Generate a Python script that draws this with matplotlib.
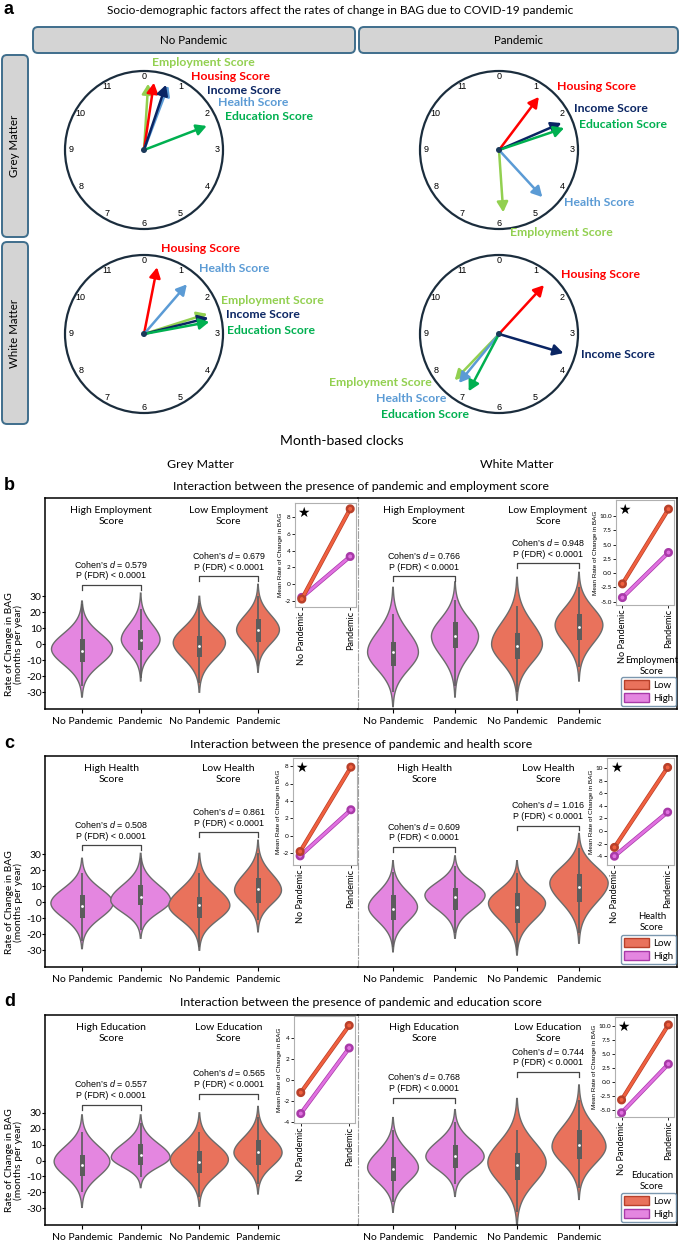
import numpy as np
import matplotlib
matplotlib.use("Agg")
import matplotlib.pyplot as plt
from matplotlib.patches import Circle, FancyArrowPatch, FancyBboxPatch, Rectangle, Patch
import matplotlib.patheffects as pe

plt.rcParams["font.family"] = ["Lato", "DejaVu Sans"]
plt.rcParams["mathtext.fontset"] = "custom"
plt.rcParams["mathtext.it"] = "Liberation Sans:italic"
plt.rcParams["mathtext.rm"] = "Liberation Sans"

# ======================= DATA =======================
factor_names = ["Employment Score", "Housing Score", "Health Score", "Income Score", "Education Score"]

# clock hands: hour position (0-12) and relative length (fraction of radius)
gm_nopan_hour = [0.12, 0.28, 0.69, 0.62, 2.30]
gm_nopan_len = [0.84, 0.86, 0.87, 0.87, 0.85]
gm_pan_hour = [5.87, 1.23, 4.58, 2.22, 2.38]
gm_pan_len = [0.79, 0.84, 0.81, 0.86, 0.87]
wm_nopan_hour = [2.41, 0.37, 1.36, 2.53, 2.65]
wm_nopan_len = [0.84, 0.86, 0.83, 0.84, 0.84]
wm_pan_hour = [7.46, 1.42, 7.31, 3.55, 6.93]
wm_pan_len = [0.81, 0.84, 0.80, 0.85, 0.82]

x_labels = ["No Pandemic", "Pandemic", "No Pandemic", "Pandemic"]
groups = ["High", "High", "Low", "Low"]
y_ticks = [-30, -20, -10, 0, 10, 20, 30]

# violin summaries: first 4 = Grey Matter, last 4 = White Matter
# order: High/NoPandemic, High/Pandemic, Low/NoPandemic, Low/Pandemic
emp_min = [-33, -23, -30, -17.5, -39, -33, -35, -23]
emp_max = [27, 32, 30, 37.5, 35.6, 39, 42, 45]
emp_peak = [-3, 3, 1, 9, -5, 5, 0, 12]
emp_q1 = [-11, -3.6, -8, 1.2, -13.7, -2.5, -9.5, 2.5]
emp_median = [-4.4, 2.5, -1.3, 8.8, -5, 5, -1, 11]
emp_q3 = [3, 8.8, 5, 16, 1.2, 14, 7, 19]
emp_whislo = [-26, -21, -24, -13.5, -30, -26, -30, -14]
emp_whishi = [25, 22, 26, 30, 19, 28, 24, 36]
emp_cohen = [0.579, 0.679, 0.766, 0.948]
emp_mean_low = [[-1.8, 9.0], [-1.9, 11.2]]
emp_mean_high = [[-1.6, 3.3], [-4.3, 3.6]]

hea_min = [-29, -22.5, -30, -18.5, -31, -22.5, -33, -25.6]
hea_max = [27.5, 30.6, 30.6, 38.8, 26, 29, 26, 43]
hea_peak = [-0.6, 1.2, -2, 7.5, -3, 4.4, -0.6, 12]
hea_q1 = [-10, -2, -10, -0.6, -11, -5, -13, 0]
hea_median = [-2.5, 3, -1.9, 8, -4.4, 3, -3, 9.4]
hea_q3 = [4.4, 10.6, 3, 15, 4.4, 9, 5.6, 17.5]
hea_whislo = [-24, -17.5, -28, -11, -28, -19, -30, -19.5]
hea_whishi = [18, 27.5, 18, 31, 19, 22.5, 18, 33.7]
hea_cohen = [0.508, 0.861, 0.609, 1.016]
hea_mean_low = [[-1.8, 7.9], [-2.6, 10.1]]
hea_mean_high = [[-2.3, 3.0], [-4.0, 3.0]]

edu_min = [-29.4, -17, -28.7, -21, -32.5, -22.5, -41, -24.4]
edu_max = [28.7, 28.7, 30, 34, 27, 32, 39, 47.5]
edu_peak = [-0.6, 2, 0.6, 5, -4.4, 2.5, -1.3, 8.8]
edu_q1 = [-10, -3, -8, -2.5, -13, -4.4, -12, 1.2]
edu_median = [-3, 3.8, -0.6, 5.6, -5.6, 3, -3, 10]
edu_q3 = [3.8, 10.6, 6, 13, 2.5, 10, 5, 19.4]
edu_whislo = [-20, -10.6, -23, -15, -26, -15, -32.5, -17]
edu_whishi = [18, 23.7, 18, 27.5, 19, 24, 19, 38]
edu_cohen = [0.557, 0.565, 0.768, 0.744]
edu_mean_low = [[-1.2, 5.2], [-3.2, 10.2]]
edu_mean_high = [[-3.2, 3.05], [-5.5, 3.2]]

# ======================= STYLE / LAYOUT =======================
W, H = 685, 1244
fig = plt.figure(figsize=(W / 100, H / 100), dpi=100)

factor_colors = ["#92d050", "#ff0000", "#5b9bd5", "#0a2563", "#00b050"]
pink = "#e486e0"
orange = "#e9725c"
pink_line, pink_edge = "#e070e0", "#a83aa8"
orange_line, orange_edge = "#f0603f", "#b8402a"


def px_axes(x0, y0, x1, y1):
    return fig.add_axes([x0 / W, 1 - y1 / H, (x1 - x0) / W, (y1 - y0) / H])


bg = fig.add_axes([0, 0, 1, 1])
bg.set_xlim(0, W)
bg.set_ylim(H, 0)
bg.axis("off")

# ---------- panel a ----------
bg.text(4, 10, "a", fontsize=13, fontweight="bold", family="Liberation Sans", va="center")
bg.text(340, 11, "Socio-demographic factors affect the rates of change in BAG due to COVID-19 pandemic",
        ha="center", va="center", fontsize=8.6)


def strip(x0, y0, x1, y1, label, rot=0):
    bg.add_patch(FancyBboxPatch((x0, y0), x1 - x0, y1 - y0,
                                boxstyle="round,pad=0,rounding_size=5",
                                fc="#d4d4d4", ec="#3f6e8c", lw=1.4))
    bg.text((x0 + x1) / 2, (y0 + y1) / 2, label, ha="center", va="center",
            fontsize=8.3, rotation=rot)


strip(33, 27, 355, 53, "No Pandemic")
strip(359, 27, 678, 53, "Pandemic")
strip(2, 55, 28, 237, "Grey Matter", 90)
strip(2, 242, 28, 424, "White Matter", 90)

R = 79
clock_specs = [
    ((144, 150), gm_nopan_hour, gm_nopan_len,
     [(8, -88, "left"), (47, -74, "left"), (74, -47, "left"), (63, -60, "left"), (81, -33, "left")]),
    ((499, 150), gm_pan_hour, gm_pan_len,
     [(11, 83, "left"), (58, -64, "left"), (65, 52, "left"), (75, -41, "left"), (80, -26, "left")]),
    ((144, 334), wm_nopan_hour, wm_nopan_len,
     [(77, -34, "left"), (17, -86, "left"), (55, -66, "left"), (82, -20, "left"), (83, -3, "left")]),
    ((499, 334), wm_pan_hour, wm_pan_len,
     [(-67, 49, "right"), (62, -60, "left"), (-123, 65, "left"), (82, 20, "left"), (-118, 81, "left")]),
]

for (cx, cy), hours, lens, offs in clock_specs:
    bg.add_patch(Circle((cx, cy), R, fill=False, ec="#1b2d3d", lw=1.6))
    for k in range(12):
        th = np.deg2rad(30 * k)
        bg.text(cx + 0.925 * R * np.sin(th), cy - 0.925 * R * np.cos(th), str(k),
                ha="center", va="center", fontsize=6.5, family="Liberation Sans")
    for name, col, h, L, (ox, oy, ha) in zip(factor_names, factor_colors, hours, lens, offs):
        th = np.deg2rad(30 * h)
        tip = (cx + L * R * np.sin(th), cy - L * R * np.cos(th))
        bg.add_patch(FancyArrowPatch((cx, cy), tip,
                                     arrowstyle="-|>,head_length=0.55,head_width=0.3",
                                     mutation_scale=11, lw=1.8, color=col,
                                     shrinkA=0, shrinkB=0))
        bg.text(cx + ox, cy + oy, name, color=col, fontsize=8.8, fontweight="bold",
                ha=ha, va="center")
    bg.add_patch(Circle((cx, cy), 3, fc="#1b3a5a", ec="none", zorder=5))

bg.text(342, 441, "Month-based clocks", ha="center", va="center", fontsize=10)
bg.text(200, 465, "Grey Matter", ha="center", va="center", fontsize=8.8)
bg.text(517, 465, "White Matter", ha="center", va="center", fontsize=8.8)

# ---------- panels b, c, d ----------
half_px = [(45, 358, 82, 58.67), (358, 677, 393, 62.0)]
ylim_main = (-40.5, 91.5)

rows = [
    dict(letter="b", top=498, bot=709, title_y=486,
         title="Interaction between the presence of pandemic and employment score",
         grp="Employment", leg_title="Employment\nScore",
         mn=emp_min, mx=emp_max, pk=emp_peak, q1=emp_q1, med=emp_median, q3=emp_q3,
         wlo=emp_whislo, whi=emp_whishi, cohen=emp_cohen, low=emp_mean_low, high=emp_mean_high,
         width=[1.04, 0.66, 0.89, 0.73, 0.82, 0.76, 0.82, 0.77],
         brk=[37, 42.5, 42.5, 50.6],
         inset=[(295, 503, 356, 607), (616, 500, 674, 605)],
         ilim=[(-2.75, 9.7), (-5.6, 12.8)],
         itick=[[-2, 0, 2, 4, 6, 8], [-5, -2.5, 0, 2.5, 5, 7.5, 10]],
         star=[True, True], leg_y=(666, 677)),
    dict(letter="c", top=756, bot=967, title_y=744,
         title="Interaction between the presence of pandemic and health score",
         grp="Health", leg_title="Health\nScore",
         mn=hea_min, mx=hea_max, pk=hea_peak, q1=hea_q1, med=hea_median, q3=hea_q3,
         wlo=hea_whislo, whi=hea_whishi, cohen=hea_cohen, low=hea_mean_low, high=hea_mean_high,
         width=[1.06, 1.02, 1.04, 0.80, 0.79, 0.97, 0.92, 0.94],
         brk=[35.6, 43.75, 34.4, 48],
         inset=[(293, 758, 357, 865), (607, 758, 674, 865)],
         ilim=[(-3.35, 8.95), (-5.4, 11.6)],
         itick=[[-2, 0, 2, 4, 6, 8], [-4, -2, 0, 2, 4, 6, 8, 10]],
         star=[True, True], leg_y=(922, 935)),
    dict(letter="d", top=1015, bot=1225, title_y=1002,
         title="Interaction between the presence of pandemic and education score",
         grp="Education", leg_title="Education\nScore",
         mn=edu_min, mx=edu_max, pk=edu_peak, q1=edu_q1, med=edu_median, q3=edu_q3,
         wlo=edu_whislo, whi=edu_whishi, cohen=edu_cohen, low=edu_mean_low, high=edu_mean_high,
         width=[0.95, 1.0, 0.99, 0.82, 0.82, 0.94, 0.94, 0.87],
         brk=[35, 41.9, 39.4, 55.6],
         inset=[(294, 1016, 355, 1123), (615, 1017, 674, 1117)],
         ilim=[(-4.1, 6.1), (-6.25, 11.6)],
         itick=[[-4, -2, 0, 2, 4], [-5, -2.5, 0, 2.5, 5, 7.5, 10]],
         star=[False, True], leg_y=(1181, 1193)),
]


def draw_violin(ax, x, lo, hi, peak, width, q1, med, q3, wlo, whi, color, bw):
    y = np.linspace(lo, hi, 300)
    s_lo = (peak - lo) / 3.1
    s_hi = (hi - peak) / 3.1
    z = np.where(y < peak, (y - peak) / s_lo, (y - peak) / s_hi)
    hw = 0.5 * width * np.exp(-0.5 * np.abs(z) ** 1.95)
    xs = np.concatenate([x - hw, (x + hw)[::-1]])
    ys = np.concatenate([y, y[::-1]])
    ax.fill(xs, ys, fc=color, ec="#6b6b6b", lw=1.0, zorder=2)
    ax.plot([x, x], [wlo, whi], color="#5c5c5c", lw=1.2, zorder=3, solid_capstyle="butt")
    ax.add_patch(Rectangle((x - bw / 2, q1), bw, q3 - q1, fc="#5c5c5c", ec="none", zorder=4))
    ax.scatter([x], [med], s=4, color="white", zorder=5, lw=0)


for r in rows:
    bg.text(4, r["title_y"] - 1, r["letter"], fontsize=13, fontweight="bold",
            family="Liberation Sans", va="center")
    bg.text(361, r["title_y"], r["title"], ha="center", va="center", fontsize=8.8)
    zero_px = r["top"] + ylim_main[1] * (r["bot"] - r["top"]) / (ylim_main[1] - ylim_main[0])
    bg.text(14, zero_px, "Rate of Change in BAG\n(months per year)", rotation=90,
            ha="center", va="center", fontsize=7.4, linespacing=1.0)

    for h, (x0, x1, origin, slope) in enumerate(half_px):
        ax = px_axes(x0, r["top"], x1, r["bot"])
        ax.set_facecolor("none")
        ax.set_xlim((x0 - origin) / slope, (x1 - origin) / slope)
        ax.set_ylim(*ylim_main)
        cols = [pink, pink, orange, orange]
        for i, k in enumerate(range(4 * h, 4 * h + 4)):
            draw_violin(ax, i, r["mn"][k], r["mx"][k], r["pk"][k], r["width"][k],
                        r["q1"][k], r["med"][k], r["q3"][k], r["wlo"][k], r["whi"][k],
                        cols[i], 5.0 / slope)
        ax.set_xticks(range(4))
        ax.set_xticklabels(x_labels, fontsize=7.5)
        ax.tick_params(axis="x", length=3, pad=3)
        for s in ax.spines.values():
            s.set_linewidth(1.1)
        if h == 0:
            ax.set_yticks(y_ticks)
            ax.set_yticklabels([str(v) for v in y_ticks], fontsize=7.4)
            ax.tick_params(axis="y", length=2, pad=0.5)
            ax.spines["right"].set_visible(False)
        else:
            ax.tick_params(axis="y", left=False, labelleft=False)
            ax.spines["left"].set_linestyle((0, (6, 2, 1, 2)))
            ax.spines["left"].set_color("#a0a0a0")
            ax.spines["left"].set_linewidth(0.8)
        # group titles
        for gx, g in zip([0.5, 2.5], ["High", "Low"]):
            ax.text(gx, 80.3, f"{g} {r['grp']}\nScore", ha="center", va="center",
                    fontsize=7.5, linespacing=1.3)
        # brackets + stats
        for j, (p0, p1) in enumerate([(0, 1), (2, 3)]):
            yb = r["brk"][2 * h + j]
            ax.plot([p0, p0, p1, p1], [yb - 3, yb, yb, yb - 3], color="#444444", lw=0.9)
            ax.text((p0 + p1) / 2, yb + 3.0,
                    f"Cohen\u2019s $d$ = {r['cohen'][2 * h + j]:.3f}\nP (FDR) < 0.0001",
                    ha="center", va="bottom", fontsize=6.4, family="Liberation Sans",
                    linespacing=1.25)

        # inset
        ia = px_axes(*r["inset"][h])
        ia.plot([0, 1], r["high"][h], color=pink_line, lw=2.0, marker="o", ms=3.5,
                mfc=pink_line, mec=pink_edge, mew=0.6,
                path_effects=[pe.Stroke(linewidth=3.0, foreground=pink_edge), pe.Normal()])
        ia.plot([0, 1], r["low"][h], color=orange_line, lw=2.0, marker="o", ms=3.5,
                mfc=orange_line, mec=orange_edge, mew=0.6,
                path_effects=[pe.Stroke(linewidth=3.0, foreground=orange_edge), pe.Normal()])
        ia.set_xlim(-0.14, 1.12)
        ia.set_ylim(*r["ilim"][h])
        ia.set_yticks(r["itick"][h])
        if any(isinstance(t, float) for t in r["itick"][h]):
            ia.set_yticklabels([f"{t:.1f}" for t in r["itick"][h]])
        else:
            ia.set_yticklabels([str(t) for t in r["itick"][h]])
        ia.tick_params(axis="y", labelsize=4.6, length=2, pad=1, width=0.6)
        ia.set_xticks([0, 1])
        ia.set_xticklabels(["No Pandemic", "Pandemic"], rotation=90, fontsize=6.6)
        ia.tick_params(axis="x", length=2, pad=1, width=0.6)
        ia.set_ylabel("Mean Rate of Change in BAG", fontsize=4.6, labelpad=1,
                      family="Liberation Sans")
        for s in ia.spines.values():
            s.set_color("#b0b0b0")
            s.set_linewidth(0.8)
        if r["star"][h]:
            ia.text(0.04, 0.97, "\u2605", transform=ia.transAxes, ha="left", va="top",
                    fontsize=10, family="DejaVu Sans")

    # legend for right half
    ty, ly = r["leg_y"]
    bg.text(652, ty, r["leg_title"], ha="center", va="center", fontsize=6.9, linespacing=1.3)
    handles = [Patch(fc=orange, ec=orange_edge, lw=1.0), Patch(fc=pink, ec=pink_edge, lw=1.0)]
    fig.legend(handles, ["Low", "High"], loc="upper left",
               bbox_to_anchor=(621 / W, 1 - ly / H), fontsize=7, frameon=True,
               fancybox=True, edgecolor="#5a7d9a", handlelength=2.6, handleheight=1.0,
               borderpad=0.3, labelspacing=0.35, handletextpad=0.4, borderaxespad=0)

fig.savefig("out.png", dpi=100)
